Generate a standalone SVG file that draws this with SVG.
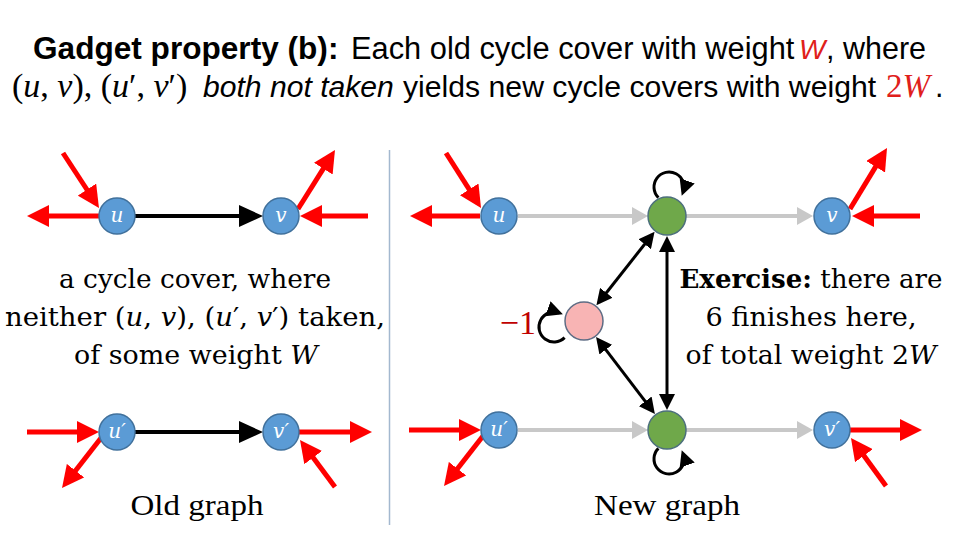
<svg xmlns="http://www.w3.org/2000/svg" width="960" height="540" viewBox="0 0 960 540">
<defs>
<style>
.title{font-family:"Liberation Sans",Arial,sans-serif;fill:#000}
.math{font-family:"Liberation Serif","DejaVu Serif",serif;fill:#000}
.body{font-family:"DejaVu Serif","Liberation Serif",serif;font-size:26px;fill:#000}
.cap{font-family:"Liberation Serif",serif;font-size:30px;fill:#000}
.red{stroke:#FF0000;stroke-width:5;fill:none;marker-end:url(#ar)}
.blk{stroke:#000;stroke-width:4;fill:none;marker-end:url(#ab)}
.gry{stroke:#C8C8C8;stroke-width:4;fill:none;marker-end:url(#ag)}
.dbl{stroke:#000;stroke-width:3;fill:none;marker-end:url(#ad);marker-start:url(#ad)}
.loop{stroke:#000;stroke-width:3;fill:none;marker-end:url(#ad)}
.blue{fill:#5B9BD5;stroke:#41719C;stroke-width:1.5}
.green{fill:#6FA84A;stroke:#4C6F7C;stroke-width:1.5}
.pink{fill:#F8B4B4;stroke:#5E6C84;stroke-width:1.5}
.lbl{font-family:"DejaVu Serif","Liberation Serif",serif;font-style:italic;font-size:20px;fill:#fff;text-anchor:middle}
.hl{fill:#E0201B}
</style>
<marker id="ar" markerUnits="userSpaceOnUse" markerWidth="22" markerHeight="22" viewBox="0 0 22 22" refX="16" refY="11" orient="auto-start-reverse"><path d="M0,0 L22,11 L0,22 z" fill="#FF0000"/></marker>
<marker id="ab" markerUnits="userSpaceOnUse" markerWidth="24" markerHeight="22" viewBox="0 0 24 22" refX="18" refY="11" orient="auto-start-reverse"><path d="M0,0 L24,11 L0,22 z" fill="#000"/></marker>
<marker id="ag" markerUnits="userSpaceOnUse" markerWidth="16" markerHeight="18" viewBox="0 0 16 18" refX="12" refY="9" orient="auto-start-reverse"><path d="M0,0 L16,9 L0,18 z" fill="#C8C8C8"/></marker>
<marker id="ad" markerUnits="userSpaceOnUse" markerWidth="16" markerHeight="16" viewBox="0 0 16 16" refX="12" refY="8" orient="auto-start-reverse"><path d="M0,0 L16,8 L0,16 z" fill="#000"/></marker>
</defs>
<rect width="960" height="540" fill="#fff"/>

<g id="title">
<text class="title" x="33" y="59" style="font-size:31.6px;font-weight:bold">Gadget property (b):</text>
<text class="title" x="351" y="59" style="font-size:30.8px">Each old cycle cover with weight</text>
<text class="title hl" x="799" y="59" style="font-size:28px;font-style:italic">W</text>
<text class="title" x="826" y="59" style="font-size:30.5px">, where</text>
<text class="math" x="12" y="97" style="font-size:34px">(<tspan font-style="italic">u</tspan>, <tspan font-style="italic">v</tspan>), (<tspan font-style="italic">u</tspan>′, <tspan font-style="italic">v</tspan>′)</text>
<text class="title" x="203" y="97" style="font-size:30.1px;font-style:italic">both not taken</text>
<text class="title" x="403" y="97" style="font-size:30.2px">yields new cycle covers with weight</text>
<text class="math hl" x="886" y="97" style="font-size:33px">2<tspan font-style="italic">W</tspan></text>
<text class="title" x="935" y="97" style="font-size:30.5px">.</text>
</g>

<line id="separator" x1="389.5" y1="150" x2="389.5" y2="525" stroke="#A3B8CF" stroke-width="1.5"/>

<g id="connectors">
<line class="blk" x1="135" y1="216" x2="257" y2="216"/>
<line class="blk" x1="135" y1="432" x2="257" y2="432"/>
<line class="red" x1="63" y1="153" x2="95.7" y2="203"/>
<line class="red" x1="99" y1="216" x2="33" y2="216"/>
<line class="red" x1="298" y1="209" x2="331.8" y2="155.1"/>
<line class="red" x1="368" y1="216" x2="306" y2="216"/>
<line class="red" x1="27" y1="432" x2="93" y2="432"/>
<line class="red" x1="101" y1="438" x2="65.7" y2="483.3"/>
<line class="red" x1="299" y1="432" x2="366" y2="432"/>
<line class="red" x1="335" y1="487" x2="303.6" y2="444.8"/>
<line class="gry" x1="518" y1="216" x2="644" y2="216"/>
<line class="gry" x1="686" y1="216" x2="809" y2="216"/>
<line class="gry" x1="518" y1="430" x2="644" y2="430"/>
<line class="gry" x1="686" y1="430" x2="809" y2="430"/>
<line class="red" x1="446" y1="153" x2="477.8" y2="202.9"/>
<line class="red" x1="480" y1="216" x2="416" y2="216"/>
<line class="red" x1="850" y1="209" x2="883.9" y2="153.1"/>
<line class="red" x1="920" y1="216" x2="858" y2="216"/>
<line class="red" x1="409" y1="430" x2="475" y2="430"/>
<line class="red" x1="483" y1="436" x2="447.7" y2="481.3"/>
<line class="red" x1="850" y1="430" x2="916" y2="430"/>
<line class="red" x1="886" y1="486" x2="854.5" y2="442.8"/>
<line class="dbl" x1="598.9" y1="302.2" x2="652.1" y2="234.8"/>
<line class="dbl" x1="598.5" y1="340.1" x2="652.5" y2="410.9"/>
<line class="dbl" x1="667" y1="240" x2="667" y2="406"/>
<path class="loop" d="M658.4,197.6 A15,15 0 1 1 683.1,192.1"/>
<path class="loop" d="M658.4,448.4 A15,15 0 1 0 683.1,453.9"/>
<path class="loop" d="M564.6,337.6 A15,15 0 1 1 559.1,312.9"/>
</g>

<g id="node-u-old"><circle class="blue" cx="117" cy="216" r="18"/><text class="lbl" x="117" y="222">u</text></g>
<g id="node-v-old"><circle class="blue" cx="281" cy="216" r="18"/><text class="lbl" x="281" y="222">v</text></g>
<g id="node-u2-old"><circle class="blue" cx="117" cy="432" r="18"/><text class="lbl" x="117" y="438">u′</text></g>
<g id="node-v2-old"><circle class="blue" cx="281" cy="432" r="18"/><text class="lbl" x="281" y="438">v′</text></g>

<g id="node-u-new"><circle class="blue" cx="499" cy="216" r="18"/><text class="lbl" x="499" y="222">u</text></g>
<g id="node-g1"><circle class="green" cx="667" cy="216" r="19"/></g>
<g id="node-v-new"><circle class="blue" cx="832" cy="216" r="18"/><text class="lbl" x="832" y="222">v</text></g>
<g id="node-pink"><circle class="pink" cx="584" cy="321" r="19"/></g>
<g id="node-u2-new"><circle class="blue" cx="499" cy="430" r="18"/><text class="lbl" x="499" y="436">u′</text></g>
<g id="node-g2"><circle class="green" cx="667" cy="430" r="19"/></g>
<g id="node-v2-new"><circle class="blue" cx="832" cy="430" r="18"/><text class="lbl" x="832" y="436">v′</text></g>

<text id="minus-one" class="math" x="536" y="334" text-anchor="end" style="font-size:34px;fill:#C00000">−1</text>

<g id="left-text">
<text class="body" x="195" y="288" text-anchor="middle" textLength="272" lengthAdjust="spacingAndGlyphs">a cycle cover, where</text>
<text class="body" x="195" y="326" text-anchor="middle" textLength="380" lengthAdjust="spacingAndGlyphs">neither (<tspan font-style="italic">u</tspan>, <tspan font-style="italic">v</tspan>), (<tspan font-style="italic">u</tspan>′, <tspan font-style="italic">v</tspan>′) taken,</text>
<text class="body" x="196" y="364" text-anchor="middle" textLength="244" lengthAdjust="spacingAndGlyphs">of some weight <tspan font-style="italic">W</tspan></text>
</g>

<g id="right-text">
<text class="body" x="811" y="288" text-anchor="middle" textLength="263" lengthAdjust="spacingAndGlyphs"><tspan font-weight="bold">Exercise:</tspan> there are</text>
<text class="body" x="811" y="326" text-anchor="middle" textLength="211" lengthAdjust="spacingAndGlyphs">6 finishes here,</text>
<text class="body" x="811" y="364" text-anchor="middle" textLength="251" lengthAdjust="spacingAndGlyphs">of total weight 2<tspan font-style="italic">W</tspan></text>
</g>

<text id="old-caption" class="cap" x="197" y="515" text-anchor="middle" textLength="133" lengthAdjust="spacingAndGlyphs">Old graph</text>
<text id="new-caption" class="cap" x="667" y="515" text-anchor="middle" textLength="146" lengthAdjust="spacingAndGlyphs">New graph</text>
</svg>
